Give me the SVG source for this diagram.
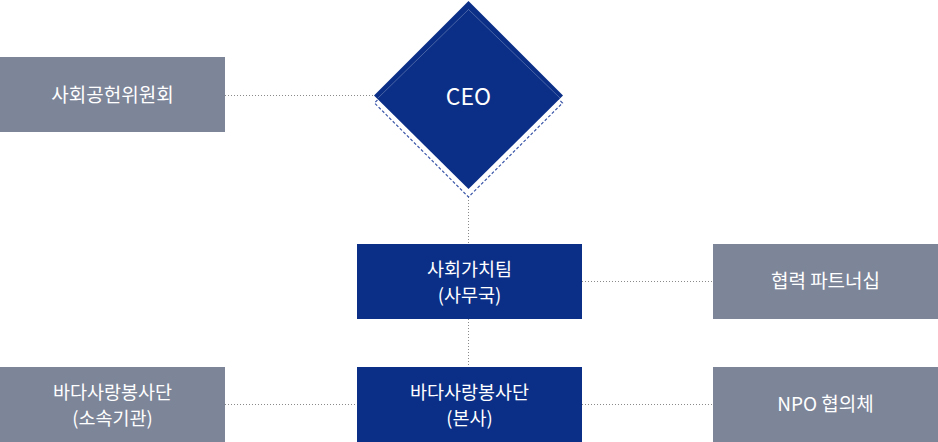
<svg xmlns="http://www.w3.org/2000/svg" width="938" height="442" viewBox="0 0 938 442">
<style>
.navy{fill:#0b2f87}
.gray{fill:#7d8599}
.t{font-family:"Noto Sans CJK KR","Noto Sans",sans-serif;font-size:19px;fill:#fff;text-anchor:middle}
.s{font-size:18.5px}
.c{fill:none;stroke:#8a8a8a;stroke-width:1;stroke-dasharray:1 2}
</style>
<g id="connectors">
<line class="c" x1="225" y1="95.5" x2="375" y2="95.5"/>
<line class="c" x1="468.5" y1="197" x2="468.5" y2="244"/>
<line class="c" x1="468.5" y1="319" x2="468.5" y2="367"/>
<line class="c" x1="582" y1="281.5" x2="713" y2="281.5"/>
<line class="c" x1="225" y1="404.5" x2="357" y2="404.5"/>
<line class="c" x1="582" y1="404.5" x2="713" y2="404.5"/>
</g>
<g id="ceo">
<polygon points="468.5,9 562.5,103 468.5,197 374.5,103" fill="none" stroke="#3a56a8" stroke-width="1.2" stroke-dasharray="3 2"/>
<polygon class="navy" points="468.5,1 563,95.5 468.5,189 374,95.5"/>
<polyline points="378,98 468.5,9.5 560,98" fill="none" stroke="#ffffff" stroke-opacity="0.25" stroke-width="1"/>
<text class="t" x="468.5" y="105" style="font-size:23px">CEO</text>
</g>
<g id="committee">
<rect class="gray" x="0" y="57" width="225" height="75"/>
<text class="t" x="112.5" y="102">사회공헌위원회</text>
</g>
<g id="team">
<rect class="navy" x="357" y="244" width="225" height="75"/>
<text class="t s" x="469.5" y="276">사회가치팀</text>
<text class="t s" x="469.5" y="302">(사무국)</text>
</g>
<g id="partner">
<rect class="gray" x="713" y="244" width="225" height="75"/>
<text class="t" x="825.5" y="288">협력 파트너십</text>
</g>
<g id="volunteer-hq">
<rect class="navy" x="357" y="367" width="225" height="75"/>
<text class="t s" x="469.5" y="399">바다사랑봉사단</text>
<text class="t s" x="469.5" y="425">(본사)</text>
</g>
<g id="volunteer-aff">
<rect class="gray" x="0" y="367" width="225" height="75"/>
<text class="t s" x="112.5" y="399">바다사랑봉사단</text>
<text class="t s" x="112.5" y="425">(소속기관)</text>
</g>
<g id="npo">
<rect class="gray" x="713" y="367" width="225" height="75"/>
<text class="t" x="825.5" y="411">NPO 협의체</text>
</g>
</svg>
